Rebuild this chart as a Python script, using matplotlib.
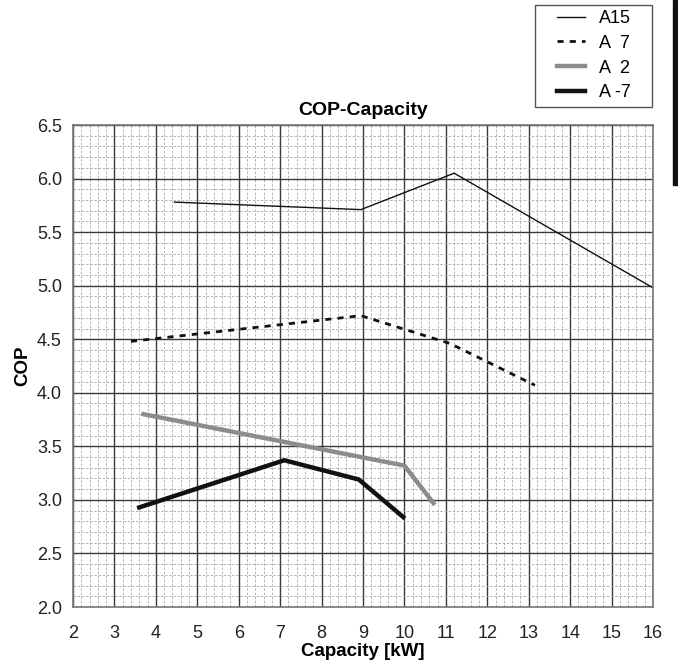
import matplotlib as mpl
import matplotlib.pyplot as plt
from matplotlib.ticker import MultipleLocator
from matplotlib.patches import Rectangle

mpl.rcParams.update({
    "font.family": "sans-serif",
    "font.sans-serif": ["Liberation Sans", "DejaVu Sans"],
    "font.size": 11,
})

a15_x = [4.45, 8.95, 11.2, 16.0]
a15_y = [5.78, 5.71, 6.05, 4.98]
a7_x = [3.4, 8.95, 11.1, 13.15]
a7_y = [4.48, 4.72, 4.46, 4.07]
a2_x = [3.7, 10.0, 10.7]
a2_y = [3.80, 3.32, 2.97]
am7_x = [3.6, 7.1, 8.9, 9.97]
am7_y = [2.93, 3.37, 3.19, 2.84]

x_ticks = list(range(2, 17))
y_ticks = [2.0, 2.5, 3.0, 3.5, 4.0, 4.5, 5.0, 5.5, 6.0, 6.5]

W, H = 678, 666
fig = plt.figure(figsize=(W / 100, H / 100), dpi=100)
ax = fig.add_axes([73 / W, 1 - 607 / H, 580 / W, 482 / H])

ax.set_xlim(2, 16)
ax.set_ylim(2.0, 6.5)
ax.set_xticks(x_ticks)
ax.set_yticks(y_ticks)
ax.set_yticklabels([f"{v:.1f}" for v in y_ticks])
ax.xaxis.set_minor_locator(MultipleLocator(0.2))
ax.yaxis.set_minor_locator(MultipleLocator(0.1))
ax.tick_params(which="both", length=0, labelsize=13, colors="#222222")
ax.tick_params(axis="x", pad=13)
ax.tick_params(axis="y", pad=8)

ax.grid(which="minor", color="#a8a8a8", linestyle=(0, (3, 2)), linewidth=0.6)
ax.grid(which="major", color="#3a3a3a", linestyle="-", linewidth=1.0)
ax.set_axisbelow(True)
for sp in ax.spines.values():
    sp.set_color("#777777")
    sp.set_linewidth(1.2)

l1, = ax.plot(a15_x, a15_y, color="#111111", lw=1.0, label="A15")
l2, = ax.plot(a7_x, a7_y, color="#111111", lw=2.0, ls=(0, (2.2, 2.2)), label="A  7")
l3, = ax.plot(a2_x, a2_y, color="#8c8c8c", lw=3.2, label="A  2")
l4, = ax.plot(am7_x, am7_y, color="#111111", lw=3.2, label="A -7")

ax.set_title("COP-Capacity", fontsize=14, fontweight="bold", pad=7)
ax.set_xlabel("Capacity [kW]", fontsize=13.5, fontweight="bold", labelpad=1)
ax.set_ylabel("COP", fontsize=13.5, fontweight="bold", labelpad=4)

# legend entries without frame, box drawn separately (wide side padding)
leg = fig.legend(handles=[l1, l2, l3, l4], loc="upper left",
                 bbox_to_anchor=(557 / W, 1 - 10 / H), frameon=False,
                 fontsize=13, handlelength=1.55, handletextpad=0.75,
                 labelspacing=0.43, borderpad=0, borderaxespad=0)
fig.patches.append(Rectangle((535 / W, 1 - 107 / H), 117 / W, 102 / H,
                             transform=fig.transFigure, fill=False,
                             edgecolor="#555555", lw=1.0))

fig.patches.append(Rectangle((673 / W, 1 - 185 / H), 5 / W, 185 / H,
                             transform=fig.transFigure, color="#111111"))

fig.savefig("out.png", dpi=100)
